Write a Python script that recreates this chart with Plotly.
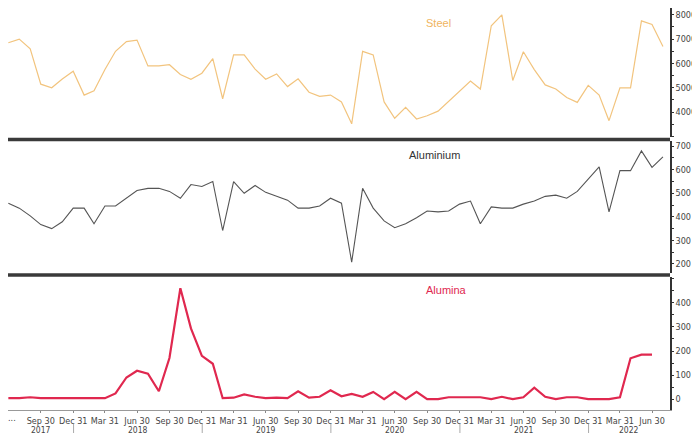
import pandas as pd
import plotly.graph_objects as go
from plotly.subplots import make_subplots

# month-end dates, Jun 2017 .. Jul 2022
dates = pd.date_range("2017-06-30", periods=62, freq="ME")

steel = [6850, 7000, 6600, 5150, 5000, 5360, 5680, 4700, 4880, 5750,
         6500, 6900, 6960, 5900, 5900, 5950, 5550, 5350, 5600, 6200,
         4550, 6350, 6350, 5770, 5350, 5570, 5050, 5370, 4820, 4650,
         4700, 4420, 3520, 6500, 6350, 4420, 3750, 4200, 3720, 3850,
         4040, 4450, 4850, 5280, 4950, 7550, 8000, 5300, 6480, 5750,
         5120, 4950, 4600, 4400, 5100, 4700, 3650, 5000, 5000, 7750,
         7600, 6700]

aluminium = [458, 437, 404, 367, 350, 379, 437, 437, 371, 446,
             446, 479, 512, 521, 521, 508, 479, 537, 529, 550,
             342, 550, 500, 533, 504, 487, 471, 437, 437, 446,
             479, 458, 208, 521, 437, 383, 354, 371, 396, 425,
             421, 425, 454, 467, 371, 442, 437, 437, 454, 467,
             487, 492, 479, 508, 558, 612, 421, 596, 596, 680,
             610, 655]

alumina = [4, 4, 8, 4, 4, 4, 4, 4, 4, 4,
           24, 90, 118, 106, 33, 171, 461, 294, 180, 147,
           4, 6, 20, 10, 4, 6, 4, 33, 6, 10,
           37, 12, 22, 10, 30, 0, 30, 0, 30, 0,
           0, 8, 8, 8, 8, 0, 10, 0, 8, 48,
           10, 0, 8, 8, 0, 0, 0, 8, 170, 185,
           185]

tick_dates = pd.date_range("2017-09-30", "2022-06-30", freq="QE")
tick_text = [d.strftime("%b ") + str(d.day) for d in tick_dates]
years = [2017, 2018, 2019, 2020, 2021, 2022]

fig = make_subplots(rows=3, cols=1, shared_xaxes=True, vertical_spacing=0.012)
fig.add_trace(go.Scatter(x=dates, y=steel, mode="lines",
                         line=dict(color="#f2c47e", width=1.2)), row=1, col=1)
fig.add_trace(go.Scatter(x=dates, y=aluminium, mode="lines",
                         line=dict(color="#555555", width=1.1)), row=2, col=1)
fig.add_trace(go.Scatter(x=dates[:61], y=alumina[:61], mode="lines",
                         line=dict(color="#e0284f", width=2.2)), row=3, col=1)

font = dict(family="Liberation Sans Narrow, DejaVu Sans Condensed, Liberation Sans", size=9, color="#444")
fig.update_layout(
    width=700, height=433, showlegend=False,
    paper_bgcolor="white", plot_bgcolor="white",
    margin=dict(l=0, r=38, t=0, b=31), font=font,
)
fig.update_xaxes(range=["2017-06-29", "2022-08-20"], showgrid=False, zeroline=False,
                 tickvals=tick_dates, ticktext=tick_text, ticks="outside", ticklen=2,
                 tickcolor="#888", showline=False, tickangle=0, automargin=False)
fig.update_xaxes(showline=True, linecolor="#999", linewidth=1, row=3, col=1)
fig.update_yaxes(side="right", showgrid=False, zeroline=False, ticks="outside",
                 ticklen=2, tickcolor="#333", showline=True, linecolor="#333",
                 linewidth=1.5, automargin=False,
                 minor=dict(ticks="outside", ticklen=2, tickcolor="#333"))
fig.update_yaxes(range=[2960, 8280], tickvals=[4000, 5000, 6000, 7000, 8000],
                 minor=dict(dtick=500), row=1, col=1)
fig.update_yaxes(range=[162, 720], tickvals=[200, 300, 400, 500, 600, 700],
                 minor=dict(dtick=50), row=2, col=1)
fig.update_yaxes(range=[-45, 506], tickvals=[0, 100, 200, 300, 400],
                 minor=dict(dtick=50), row=3, col=1)
fig.update_layout(yaxis=dict(domain=[0.678, 1]), yaxis2=dict(domain=[0.341, 0.668]),
                  yaxis3=dict(domain=[0, 0.330]))

# panel separators
for yy in [0.673, 0.336]:
    fig.add_shape(type="line", xref="paper", yref="paper", x0=0, x1=1, y0=yy, y1=yy,
                  line=dict(color="#3a3a3a", width=3.5))

# year labels and separators
yfont = dict(font, size=8.5)
for y in years:
    start = max(pd.Timestamp(f"{y}-01-01"), pd.Timestamp("2017-06-29"))
    end = min(pd.Timestamp(f"{y}-12-31"), pd.Timestamp("2022-08-20"))
    mid = start + (end - start) / 2
    fig.add_annotation(x=mid, y=-0.05, xref="x3", yref="paper", text=str(y),
                       showarrow=False, font=yfont, yanchor="middle", borderpad=0)
    if y > 2017:
        fig.add_shape(type="line", xref="x3", yref="paper", x0=start, x1=start,
                      y0=-0.034, y1=-0.075, line=dict(color="#aaa", width=1))
fig.add_annotation(x="2017-07-10", y=-0.02, xref="x3", yref="paper", text="...",
                   showarrow=False, font=font, yanchor="middle", borderpad=0)

fig.add_annotation(x=0.65, y=0.963, xref="paper", yref="paper", text="Steel",
                   showarrow=False, yanchor="middle",
                   font=dict(family="Liberation Sans", size=11, color="#f0b460"))
fig.add_annotation(x=0.686, y=0.634, xref="paper", yref="paper", text="Aluminium",
                   showarrow=False, yanchor="middle",
                   font=dict(family="Liberation Sans", size=11, color="#333"))
fig.add_annotation(x=0.662, y=0.298, xref="paper", yref="paper", text="Alumina",
                   showarrow=False, yanchor="middle",
                   font=dict(family="Liberation Sans", size=11, color="#e0284f"))

fig.write_html("out.html")
